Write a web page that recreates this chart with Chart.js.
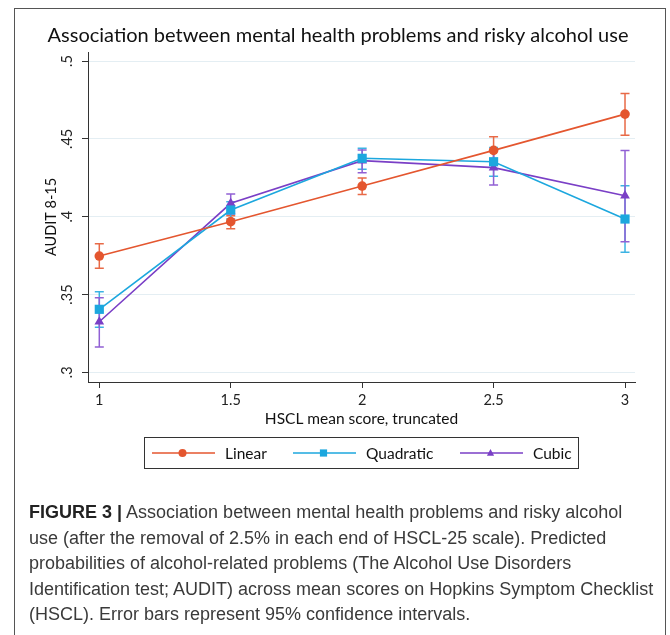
<!DOCTYPE html>
<html>
<head>
<meta charset="utf-8">
<script src="https://cdn.jsdelivr.net/npm/chart.js@4.4.1/dist/chart.umd.min.js"></script>
<style>
  html, body { margin: 0; padding: 0; background: #fff; }
  #wrap { position: relative; width: 670px; height: 635px; overflow: hidden; }
  #frame { position: absolute; left: 14px; top: 8px; width: 652px; height: 700px; border: 1px solid #555; box-sizing: border-box; }
  canvas { position: absolute; left: 0; top: 0; }
  #caption { position: absolute; left: 29px; top: 500px; width: 640px; font-family: "Liberation Sans", Arial, sans-serif; font-size: 18px; line-height: 25.5px; color: #3a3a3a; white-space: nowrap; letter-spacing: 0px; }
  #caption b { color: #222; }
</style>
</head>
<body>
<div id="wrap">
  <div id="frame"></div>
  <canvas id="c" width="670" height="635"></canvas>
  <div id="caption"><b>FIGURE 3 |</b> Association between mental health problems and risky alcohol<br>use (after the removal of 2.5% in each end of HSCL-25 scale). Predicted<br>probabilities of alcohol-related problems (The Alcohol Use Disorders<br>Identification test; AUDIT) across mean scores on Hopkins Symptom Checklist<br>(HSCL). Error bars represent 95% confidence intervals.</div>
</div>
<script>
const chartTitle = "Association between mental health problems and risky alcohol use";
const xAxisTitle = "HSCL mean score, truncated";
const yAxisTitle = "AUDIT 8-15";

const hsclScores = [1, 1.5, 2, 2.5, 3];
const xTickValues = [1, 1.5, 2, 2.5, 3];
const xTickLabels = ["1", "1.5", "2", "2.5", "3"];
const yTickValues = [0.3, 0.35, 0.4, 0.45, 0.5];
const yTickLabels = [".3", ".35", ".4", ".45", ".5"];

const seriesNames = ["Linear", "Quadratic", "Cubic"];
const linearValues = [0.3747, 0.3968, 0.4197, 0.4426, 0.4659];
const linearLow    = [0.3668, 0.3923, 0.4143, 0.4338, 0.4523];
const linearHigh   = [0.3826, 0.4006, 0.4248, 0.4514, 0.4792];
const quadValues   = [0.3405, 0.4043, 0.4375, 0.4353, 0.3985];
const quadLow      = [0.3289, 0.3985, 0.4304, 0.4260, 0.3771];
const quadHigh     = [0.3518, 0.4096, 0.4439, 0.4445, 0.4199];
const cubicValues  = [0.3325, 0.4086, 0.4360, 0.4315, 0.4135];
const cubicLow     = [0.3163, 0.4017, 0.4283, 0.4203, 0.3839];
const cubicHigh    = [0.3480, 0.4145, 0.4428, 0.4425, 0.4426];

const colors = ["#E4562F", "#1CA7DE", "#7A3FC6"];
const ciColors = ["#E86A47", "#3CB3E3", "#9160D4"];
const styles = ["circle", "rect", "triangle"];
const radii = [4.8, 6.5, 5.6];

const FONT = "Lato, 'Open Sans', sans-serif";

function pts(vals) { return hsclScores.map((x, i) => ({ x: x, y: vals[i] })); }

const lows = [linearLow, quadLow, cubicLow];
const highs = [linearHigh, quadHigh, cubicHigh];

const errorBars = {
  id: 'errorBars',
  beforeDatasetsDraw(chart) {
    const ctx = chart.ctx, xs = chart.scales.x, ys = chart.scales.y;
    chart.data.datasets.forEach((ds, d) => {
      ctx.save();
      ctx.strokeStyle = ciColors[d];
      ctx.lineWidth = 1.5;
      hsclScores.forEach((xv, i) => {
        const px = xs.getPixelForValue(xv);
        const lo = ys.getPixelForValue(lows[d][i]);
        const hi = ys.getPixelForValue(highs[d][i]);
        ctx.beginPath();
        ctx.moveTo(px, lo); ctx.lineTo(px, hi);
        ctx.moveTo(px - 4.5, lo); ctx.lineTo(px + 4.5, lo);
        ctx.moveTo(px - 4.5, hi); ctx.lineTo(px + 4.5, hi);
        ctx.stroke();
      });
      ctx.restore();
    });
  }
};

function marker(ctx, style, x, y, s, color) {
  ctx.fillStyle = color;
  ctx.beginPath();
  if (style === 'circle') ctx.arc(x, y, s, 0, Math.PI * 2);
  else if (style === 'rect') ctx.rect(x - s, y - s, 2 * s, 2 * s);
  else { ctx.moveTo(x, y - s * 1.1); ctx.lineTo(x + s, y + s * 0.75); ctx.lineTo(x - s, y + s * 0.75); ctx.closePath(); }
  ctx.fill();
}

const extras = {
  id: 'extras',
  afterDraw(chart) {
    const ctx = chart.ctx;
    ctx.save();
    ctx.fillStyle = "#111";
    ctx.font = "20px " + FONT;
    ctx.textAlign = "center";
    ctx.textBaseline = "alphabetic";
    ctx.fillText(chartTitle, 338, 42);
    ctx.strokeStyle = "#333";
    ctx.lineWidth = 1;
    ctx.strokeRect(144.5, 437.5, 434, 31);
    const starts = [152, 293, 460];
    const ly = 453;
    ctx.font = "15.5px " + FONT;
    ctx.textAlign = "left";
    ctx.textBaseline = "middle";
    seriesNames.forEach((name, i) => {
      const x0 = starts[i];
      ctx.strokeStyle = colors[i];
      ctx.lineWidth = 1.5;
      ctx.beginPath(); ctx.moveTo(x0, ly); ctx.lineTo(x0 + 63, ly); ctx.stroke();
      marker(ctx, styles[i], x0 + 30.5, ly, i === 0 ? 4 : 3.6, colors[i]);
      ctx.fillStyle = "#111";
      ctx.fillText(name, x0 + 73, ly + 1);
    });
    ctx.restore();
  }
};

const valueSets = [linearValues, quadValues, cubicValues];

new Chart(document.getElementById('c'), {
  type: 'line',
  data: {
    datasets: seriesNames.map((name, i) => ({
      label: name,
      data: pts(valueSets[i]),
      borderColor: colors[i],
      backgroundColor: colors[i],
      borderWidth: 1.6,
      pointStyle: styles[i],
      pointRadius: radii[i],
      pointHoverRadius: radii[i],
      pointBorderWidth: 0,
      tension: 0
    }))
  },
  options: {
    responsive: false,
    animation: false,
    events: [],
    layout: { padding: { left: 0, right: 35, top: 52, bottom: 203 } },
    plugins: {
      legend: { display: false },
      title: { display: false },
      tooltip: { enabled: false }
    },
    scales: {
      x: {
        type: 'linear',
        min: 0.957,
        max: 3.038,
        afterBuildTicks(s) { s.ticks = xTickValues.map(v => ({ value: v })); },
        afterFit(s) { s.height = 50; },
        ticks: {
          callback(v, i) { return xTickLabels[i]; },
          color: "#222",
          font: { family: FONT, size: 14.5 },
          padding: 4,
          maxRotation: 0,
          autoSkip: false
        },
        grid: { drawOnChartArea: false, drawTicks: true, tickLength: 6, tickColor: "#333", tickWidth: 1 },
        border: { color: "#333", width: 1 },
        title: { display: true, text: xAxisTitle, color: "#111", font: { family: FONT, size: 15.5 }, padding: { top: 0, bottom: 4 } }
      },
      y: {
        type: 'linear',
        min: 0.2938,
        max: 0.5058,
        afterBuildTicks(s) { s.ticks = yTickValues.map(v => ({ value: v })); },
        afterFit(s) { s.width = 88; },
        ticks: {
          callback(v, i) { return yTickLabels[i]; },
          color: "#222",
          font: { family: FONT, size: 14.5 },
          padding: 5,
          minRotation: 90,
          maxRotation: 90,
          crossAlign: 'center',
          autoSkip: false
        },
        grid: { color: "#E4EEF3", lineWidth: 1, drawTicks: true, tickLength: 6, tickColor: "#333", tickWidth: 1 },
        border: { color: "#333", width: 1 },
        title: { display: true, text: yAxisTitle, color: "#111", font: { family: FONT, size: 14.5 }, padding: { top: 43, bottom: 0 } }
      }
    }
  },
  plugins: [errorBars, extras]
});
</script>
</body>
</html>
